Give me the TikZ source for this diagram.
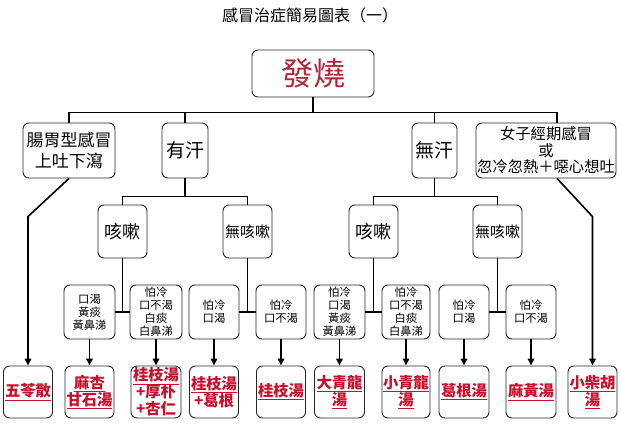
\documentclass[tikz,border=0pt]{standalone}
\usepackage{fontspec}
\setmainfont{Noto Sans CJK TC}
\usetikzlibrary{calc,arrows.meta}
\definecolor{redtxt}{HTML}{C8102E}
\definecolor{rootred}{HTML}{B02838}
\begin{document}
\begin{tikzpicture}[x=1pt,y=-1pt,
  box/.style={draw=black!85, line width=0.9pt, rounded corners=6pt, align=center, inner sep=0pt, fill=white},
  lone/.style={box, minimum height=55pt},
  ltwo/.style={box, minimum width=49pt, minimum height=53pt},
  lthree/.style={box, minimum width=50pt, minimum height=54pt, font={\fontsize{11.3}{13}\selectfont}},
  lfour/.style={box, minimum width=49pt, minimum height=52pt, text=redtxt, font={\bfseries\fontsize{15.3}{17}\selectfont}},
  conn/.style={line width=1.6pt, draw=black},
  arr/.style={conn, -{Triangle[length=7pt,width=6.5pt]}}]
\fill[white] (0,0) rectangle (621,435);
\useasboundingbox (0,0) rectangle (621,435);

% title
\node[font={\fontsize{16}{18}\selectfont}] (title) at (310,15) {感冒治症簡易圖表（一）};

% root
\node[box, minimum width=122pt, minimum height=47pt, text=rootred, font={\fontsize{32}{34}\selectfont}] (root) at (313,73.5) {發燒};

% level 1
\node[lone, minimum width=92pt, font={\fontsize{17}{21}\selectfont}] (gi) at (69,150.5) {腸胃型感冒\\上吐下瀉};
\node[lone, minimum width=46pt, font={\fontsize{19}{21}\selectfont}] (you) at (185,150.5) {有汗};
\node[lone, minimum width=45pt, font={\fontsize{19}{21}\selectfont}] (wu) at (434.5,150.5) {無汗};
\node[lone, minimum width=140pt, font={\fontsize{15.3}{16.5}\selectfont}] (nv) at (546,150.5) {女子經期感冒\\或\\忽冷忽熱＋噁心想吐};

% level 2
\node[ltwo, font={\fontsize{18}{20}\selectfont}] (ks1) at (122.5,231.5) {咳嗽};
\node[ltwo, font={\fontsize{15}{17}\selectfont}] (nks1) at (247.5,231.5) {無咳嗽};
\node[ltwo, font={\fontsize{18}{20}\selectfont}] (ks2) at (373.5,231.5) {咳嗽};
\node[ltwo, font={\fontsize{15}{17}\selectfont}] (nks2) at (497.5,231.5) {無咳嗽};

% level 3
\node[lthree, minimum width=51pt] (a1) at (89.5,312) {口渴\\黃痰\\黃鼻涕};
\node[lthree, minimum width=52pt] (a2) at (156,312) {怕冷\\口不渴\\白痰\\白鼻涕};
\node[lthree] (a3) at (214,312) {怕冷\\口渴};
\node[lthree] (a4) at (281,312) {怕冷\\口不渴};
\node[lthree, minimum width=51pt] (a5) at (339.5,312) {怕冷\\口渴\\黃痰\\黃鼻涕};
\node[lthree, minimum width=48pt] (a6) at (406,312) {怕冷\\口不渴\\白痰\\白鼻涕};
\node[lthree] (a7) at (464,312) {怕冷\\口渴};
\node[lthree] (a8) at (531,312) {怕冷\\口不渴};

% level 4
\node[lfour] (b0) at (28,392) {\underline{五苓散}};
\node[lfour] (b1) at (89.5,392) {\underline{麻杏}\\\underline{甘石湯}};
\node[lfour, minimum width=50pt] (b2) at (156,392) {\underline{桂枝湯}\\+厚朴\\+杏仁};
\node[lfour] (b3) at (214,392) {\underline{桂枝湯}\\+葛根};
\node[lfour] (b4) at (281,392) {\underline{桂枝湯}};
\node[lfour, minimum width=50pt] (b5) at (339.5,392) {\underline{大青龍}\\\underline{湯}};
\node[lfour, minimum width=48pt] (b6) at (406,392) {\underline{小青龍}\\\underline{湯}};
\node[lfour, minimum width=50pt] (b7) at (464,392) {\underline{葛根湯}};
\node[lfour, minimum width=50pt] (b8) at (531,392) {\underline{麻黃湯}};
\node[lfour] (b9) at (592.5,392) {\underline{小柴胡}\\\underline{湯}};

% connectors: root to level 1
\coordinate (nvport) at ($(nv.north)+(11,0)$);
\coordinate (nvout) at ($(nv.south)+(11,0)$);
\draw[conn] (root.south) -- ++(0,15) coordinate (j0);
\draw[conn] (gi.north) -- (gi.north |- j0) -- (nvport |- j0) -- (nvport);
\draw[conn] (you.north) -- (you.north |- j0);
\draw[conn] (wu.north) -- (wu.north |- j0);

% level 1 to level 2
\draw[conn] (you.south) -- ++(0,18) coordinate (j1);
\draw[conn] (ks1.north) -- (ks1.north |- j1) -- (nks1.north |- j1) -- (nks1.north);
\draw[conn] (wu.south) -- ++(0,18) coordinate (j2);
\draw[conn] (ks2.north) -- (ks2.north |- j2) -- (nks2.north |- j2) -- (nks2.north);

% level 2 to level 3
\draw[conn] (a1.east) -- (a2.west);
\draw[conn] (ks1.south) -- (ks1.south |- a1.east);
\draw[conn] (a3.east) -- (a4.west);
\draw[conn] (nks1.south) -- (nks1.south |- a3.east);
\draw[conn] (a5.east) -- (a6.west);
\draw[conn] (ks2.south) -- (ks2.south |- a5.east);
\draw[conn] (a7.east) -- (a8.west);
\draw[conn] (nks2.south) -- (nks2.south |- a7.east);

% level 3 to level 4
\foreach \i in {1,...,8}{
  \draw[arr] (a\i.south) -- (a\i.south |- b\i.north);
}

% side branches
\draw[arr] (gi.south) -- ($(b0.north)+(0,-149)$) -- (b0.north);
\draw[arr] (nvout) -- ($(b9.north)+(0,-149)$) -- (b9.north);
\end{tikzpicture}
\end{document}
